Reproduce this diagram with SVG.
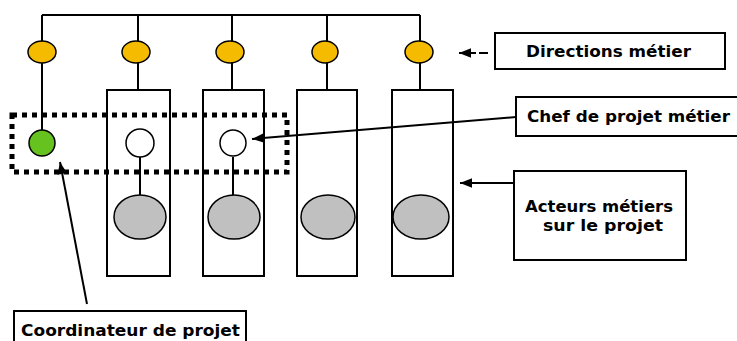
<svg xmlns="http://www.w3.org/2000/svg" width="737" height="341" viewBox="0 0 737 341">
<defs>
<style>
.ln{stroke:#000;stroke-width:2;fill:none}
.yel{fill:#f5bb00;stroke:#000;stroke-width:1.5}
.col{fill:#fff;stroke:#000;stroke-width:2}
.wh{fill:#fff;stroke:#000;stroke-width:1.5}
.gr{fill:#c0c0c0;stroke:#000;stroke-width:1.5}
.box{fill:#fff;stroke:#000;stroke-width:2}
.t{font-family:"DejaVu Sans",Verdana,sans-serif;font-weight:bold;font-size:15px;fill:#000}
.dot{fill:none;stroke:#000;stroke-width:5;stroke-dasharray:5 5}
</style>
<marker id="ah" viewBox="0 0 10 10" refX="10" refY="5" markerWidth="16" markerHeight="12" markerUnits="userSpaceOnUse" orient="auto">
<path d="M0,1 L10,5 L0,9 Z" fill="#000"/>
</marker>
</defs>
<rect width="737" height="341" fill="#fff"/>
<g id="columns">
<g id="col2"><rect class="col" x="107" y="90" width="63" height="186"/></g>
<g id="col3"><rect class="col" x="203" y="90" width="61" height="186"/></g>
<g id="col4"><rect class="col" x="297" y="90" width="60" height="186"/></g>
<g id="col5"><rect class="col" x="392" y="90" width="61" height="186"/></g>
</g>
<g id="connectors">
<path class="ln" d="M42,15 H420 M42,15 V130 M138,15 V90 M232,15 V90 M327,15 V90 M420,15 V90"/>
<path class="ln" d="M140,157 V197 M233,157 V197"/>
<line class="ln" x1="87" y1="304" x2="60" y2="162" marker-end="url(#ah)"/>
<line class="ln" x1="516" y1="117" x2="252" y2="139" marker-end="url(#ah)"/>
<line class="ln" x1="514" y1="183" x2="460" y2="183" marker-end="url(#ah)"/>
<line class="ln" x1="476" y1="53" x2="459" y2="53" marker-end="url(#ah)"/>
<line class="ln" x1="479" y1="53" x2="488" y2="53"/>
</g>
<g id="yellow">
<ellipse class="yel" cx="42" cy="52" rx="14" ry="11"/>
<ellipse class="yel" cx="136" cy="52" rx="14" ry="11"/>
<ellipse class="yel" cx="230" cy="52" rx="14" ry="11"/>
<ellipse class="yel" cx="325" cy="52" rx="13" ry="11"/>
<ellipse class="yel" cx="419" cy="52" rx="14" ry="11"/>
</g>
<g id="coordinator-node"><circle cx="42" cy="143" r="13" fill="#66c21e" stroke="#000" stroke-width="1.5"/></g>
<g id="chef1"><circle class="wh" cx="140" cy="143" r="14"/></g>
<g id="chef2"><circle class="wh" cx="233" cy="143" r="13"/></g>
<g id="actors">
<ellipse class="gr" cx="140" cy="217" rx="26" ry="22"/>
<ellipse class="gr" cx="234" cy="217" rx="26" ry="22"/>
<ellipse class="gr" cx="328" cy="217" rx="27" ry="22"/>
<ellipse class="gr" cx="421" cy="217" rx="28" ry="22"/>
</g>
<g id="project-group"><rect class="dot" x="12" y="115" width="275" height="57"/></g>
<g id="label-directions">
<rect class="box" x="495" y="33" width="230" height="36"/>
<text class="t" x="526" y="57" textLength="165" lengthAdjust="spacingAndGlyphs">Directions métier</text>
</g>
<g id="label-chef">
<rect class="box" x="516" y="97" width="222" height="39"/>
<text class="t" x="527" y="122" textLength="203" lengthAdjust="spacingAndGlyphs">Chef de projet métier</text>
</g>
<g id="label-acteurs">
<rect class="box" x="514" y="171" width="172" height="89"/>
<text class="t" x="525" y="212" textLength="148" lengthAdjust="spacingAndGlyphs">Acteurs métiers</text>
<text class="t" x="543" y="231" textLength="120" lengthAdjust="spacingAndGlyphs">sur le projet</text>
</g>
<g id="label-coord">
<rect class="box" x="14" y="311" width="232" height="32"/>
<text class="t" x="21" y="336" textLength="219" lengthAdjust="spacingAndGlyphs">Coordinateur de projet</text>
</g>
</svg>
